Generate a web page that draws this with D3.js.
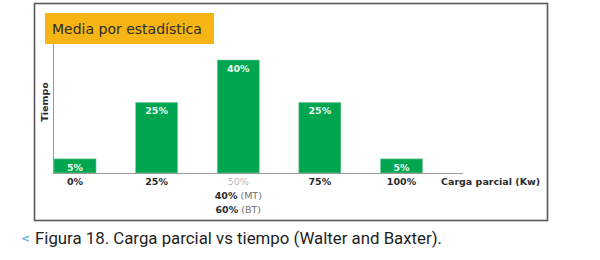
<!DOCTYPE html>
<html>
<head>
<meta charset="utf-8">
<script src="https://cdn.jsdelivr.net/npm/d3@7"></script>
<style>
body { margin: 0; background: #fff; }
svg { display: block; }
</style>
</head>
<body>
<svg id="chart" width="600" height="260"></svg>
<script>
//data
var categories = ['0%', '25%', '50%', '75%', '100%'];
var values = [5, 25, 40, 25, 5];
var barLabels = ['5%', '25%', '40%', '25%', '5%'];
var extraTicks = [['40%', ' (MT)'], ['60%', ' (BT)']];

var svg = d3.select('#chart');
var font = 'Verdana, "DejaVu Sans", sans-serif';

//outer frame
svg.append('rect')
	.attr('x', 34.5).attr('y', 3.5)
	.attr('width', 513).attr('height', 217)
	.style('fill', 'white')
	.style('stroke', '#5a5557')
	.style('stroke-width', 1.6);

//scales
var x = d3.scaleBand()
	.domain(categories)
	.range([54, 422.5])
	.paddingInner(0.485)
	.paddingOuter(0);
var y = d3.scaleLinear().domain([0, 40]).range([173, 60]);

//bars
svg.selectAll('.bar')
	.data(values)
	.join('rect')
	.classed('bar', true)
	.attr('x', (d, i) => x(categories[i]))
	.attr('y', d => y(d))
	.attr('width', x.bandwidth())
	.attr('height', d => y(0) - y(d))
	.style('fill', '#00a54f')
	.style('stroke', '#7fcf9f')
	.style('stroke-width', 0.6);

svg.selectAll('.barLabel')
	.data(values)
	.join('text')
	.classed('barLabel', true)
	.attr('x', (d, i) => x(categories[i]) + x.bandwidth() / 2)
	.attr('y', d => y(d) + 12)
	.style('text-anchor', 'middle')
	.style('font-family', font)
	.style('font-size', '9.5px')
	.style('font-weight', 'bold')
	.style('fill', '#eafaf0')
	.text((d, i) => barLabels[i]);

//axes lines
svg.append('line')
	.attr('x1', 53.5).attr('x2', 53.5)
	.attr('y1', 44).attr('y2', y(0))
	.style('stroke', '#9a9a9a').style('stroke-width', 1);
svg.append('line')
	.attr('x1', 53).attr('x2', 463)
	.attr('y1', y(0) + 0.5).attr('y2', y(0) + 0.5)
	.style('stroke', '#9a9a9a').style('stroke-width', 1);

//x tick labels
var xAxis = svg.append('g')
	.attr('transform', `translate(0,${y(0)})`)
	.call(d3.axisBottom(x).tickSize(0).tickPadding(5));
xAxis.select('.domain').remove();
xAxis.selectAll('text')
	.style('font-family', font)
	.style('font-size', '9.5px')
	.style('fill', (d, i) => i == 2 ? '#b8b8b8' : '#2a2a2a')
	.style('font-weight', (d, i) => i == 2 ? 'normal' : 'bold');

//extra labels under 50%
var cx = x('50%') + x.bandwidth() / 2;
extraTicks.forEach(function(t, i) {
	var txt = svg.append('text')
		.attr('x', cx)
		.attr('y', 199 + i * 14)
		.style('text-anchor', 'middle')
		.style('font-family', font)
		.style('font-size', '9.5px');
	txt.append('tspan').style('font-weight', 'bold').style('fill', '#2a2a2a').text(t[0]);
	txt.append('tspan').style('fill', '#707070').text(t[1]);
});

//axis titles
svg.append('text')
	.attr('x', 441).attr('y', 185)
	.style('font-family', font)
	.style('font-size', '9.5px')
	.style('font-weight', 'bold')
	.style('fill', '#2a2a2a')
	.text('Carga parcial (Kw)');
svg.append('text')
	.attr('transform', 'translate(48,102) rotate(-90)')
	.style('text-anchor', 'middle')
	.style('font-family', font)
	.style('font-size', '9.5px')
	.style('font-weight', 'bold')
	.style('fill', '#2a2a2a')
	.text('Tiempo');

//title box
svg.append('rect')
	.attr('x', 45).attr('y', 13)
	.attr('width', 169).attr('height', 31)
	.style('fill', '#f6b514');
svg.append('text')
	.attr('x', 52).attr('y', 34)
	.style('font-family', font)
	.style('font-size', '14px')
	.style('fill', '#2b2b2b')
	.text('Media por estadística');

//caption
svg.append('text')
	.attr('x', 21).attr('y', 242)
	.style('font-family', font)
	.style('font-size', '11px')
	.style('font-weight', 'bold')
	.style('fill', '#6bb3e3')
	.text('<');
svg.append('text')
	.attr('x', 35).attr('y', 244)
	.attr('textLength', 407)
	.attr('lengthAdjust', 'spacingAndGlyphs')
	.style('font-family', '"Liberation Sans Narrow", "Roboto", sans-serif')
	.style('font-size', '17px')
	.style('fill', '#1e1e1e')
	.text('Figura 18. Carga parcial vs tiempo (Walter and Baxter).');
</script>
</body>
</html>
